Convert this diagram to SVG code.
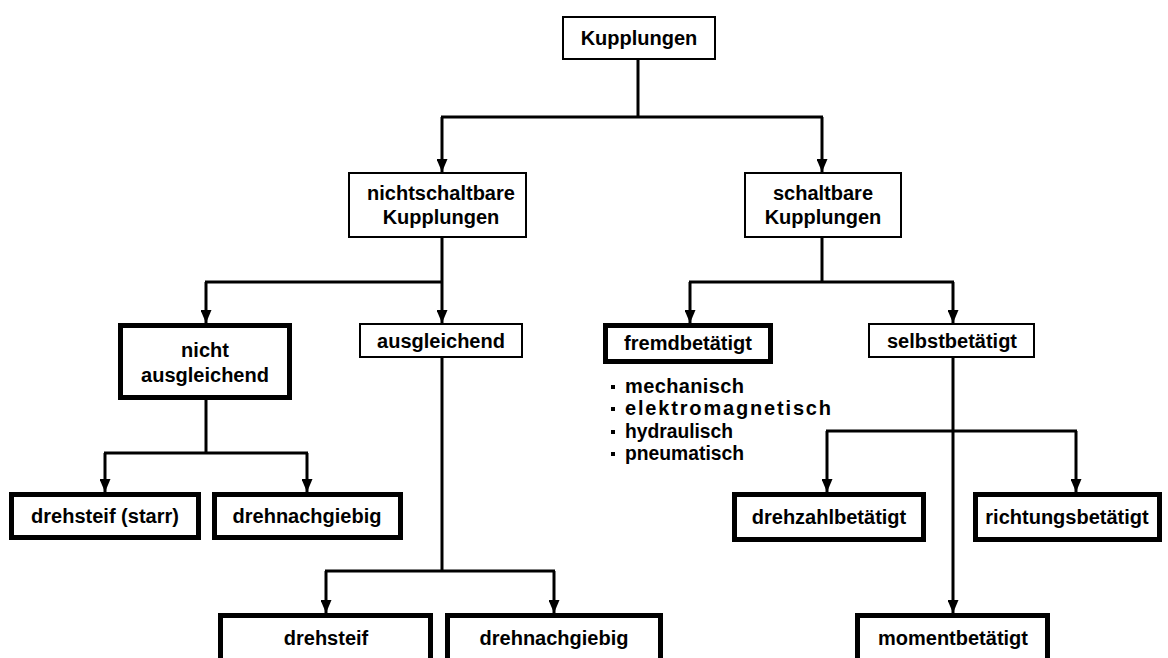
<svg xmlns="http://www.w3.org/2000/svg" width="1168" height="658" viewBox="0 0 1168 658">
  <style>
    .box { fill: #fff; stroke: #000; stroke-width: 2; }
    .box-thick { fill: #fff; stroke: #000; stroke-width: 5; }
    .label { font-family: "Liberation Sans", Arial, sans-serif; font-weight: bold; font-size: 20px; fill: #000; text-anchor: middle; }
    .item { font-family: "Liberation Sans", Arial, sans-serif; font-weight: bold; font-size: 20px; fill: #000; }
    .bullet { fill: #000; }
    .conn { fill: none; stroke: #000; stroke-width: 3; }
  </style>
  <defs>
    <marker id="arrow" markerUnits="userSpaceOnUse" viewBox="0 0 13 11" markerWidth="13" markerHeight="11" refX="13" refY="5.5" orient="auto">
      <path d="M0,0 L13,5.5 L0,11 z" fill="#000"/>
    </marker>
  </defs>
  <rect width="1168" height="658" fill="#fff"/>

  <!-- connectors -->
  <g id="connectors">
    <!-- Kupplungen -> two main branches -->
    <path class="conn" d="M638,60 V117"/>
    <path class="conn" d="M441,117 H823"/>
    <path class="conn" d="M442,117 V172" marker-end="url(#arrow)"/>
    <path class="conn" d="M822,117 V172" marker-end="url(#arrow)"/>

    <!-- nichtschaltbare -> nicht ausgleichend / ausgleichend -->
    <path class="conn" d="M442,238 V282"/>
    <path class="conn" d="M205,282 H443"/>
    <path class="conn" d="M206,282 V323" marker-end="url(#arrow)"/>
    <path class="conn" d="M442,282 V323" marker-end="url(#arrow)"/>

    <!-- schaltbare -> fremdbetätigt / selbstbetätigt -->
    <path class="conn" d="M822,238 V282"/>
    <path class="conn" d="M689,282 H954"/>
    <path class="conn" d="M690,282 V323" marker-end="url(#arrow)"/>
    <path class="conn" d="M953,282 V323" marker-end="url(#arrow)"/>

    <!-- nicht ausgleichend -> drehsteif (starr) / drehnachgiebig -->
    <path class="conn" d="M206,400 V453"/>
    <path class="conn" d="M104,453 H308"/>
    <path class="conn" d="M105,453 V492" marker-end="url(#arrow)"/>
    <path class="conn" d="M307,453 V492" marker-end="url(#arrow)"/>

    <!-- ausgleichend -> drehsteif / drehnachgiebig -->
    <path class="conn" d="M442,358 V571"/>
    <path class="conn" d="M325,571 H555"/>
    <path class="conn" d="M326,571 V613" marker-end="url(#arrow)"/>
    <path class="conn" d="M554,571 V613" marker-end="url(#arrow)"/>

    <!-- selbstbetätigt -> drehzahl- / richtungs- / momentbetätigt -->
    <path class="conn" d="M953,358 V613" marker-end="url(#arrow)"/>
    <path class="conn" d="M826,431 H1077"/>
    <path class="conn" d="M827,431 V492" marker-end="url(#arrow)"/>
    <path class="conn" d="M1076,431 V492" marker-end="url(#arrow)"/>
  </g>

  <!-- nodes -->
  <g id="kupplungen">
    <rect class="box" x="563" y="17" width="152" height="42"/>
    <text class="label" x="639" y="45">Kupplungen</text>
  </g>

  <g id="nichtschaltbare">
    <rect class="box" x="349" y="173" width="177" height="64"/>
    <text class="label" x="441" y="200">nichtschaltbare</text>
    <text class="label" x="441" y="224">Kupplungen</text>
  </g>

  <g id="schaltbare">
    <rect class="box" x="745" y="173" width="156" height="64"/>
    <text class="label" x="823" y="200">schaltbare</text>
    <text class="label" x="823" y="224">Kupplungen</text>
  </g>

  <g id="nicht-ausgleichend">
    <rect class="box-thick" x="120.5" y="325.5" width="169" height="72"/>
    <text class="label" x="205" y="357">nicht</text>
    <text class="label" x="205" y="382">ausgleichend</text>
  </g>

  <g id="ausgleichend">
    <rect class="box" x="360" y="324" width="162" height="33"/>
    <text class="label" x="441" y="348">ausgleichend</text>
  </g>

  <g id="fremdbetaetigt">
    <rect class="box-thick" x="605.5" y="325.5" width="165" height="36"/>
    <text class="label" x="688" y="350">fremdbetätigt</text>
  </g>

  <g id="fremdbetaetigt-arten">
    <rect class="bullet" x="611" y="385" width="4" height="4"/>
    <text class="item" x="625" y="393" textLength="119" lengthAdjust="spacing">mechanisch</text>
    <rect class="bullet" x="611" y="407" width="4" height="4"/>
    <text class="item" x="625" y="415" textLength="206" lengthAdjust="spacing">elektromagnetisch</text>
    <rect class="bullet" x="611" y="430" width="4" height="4"/>
    <text class="item" x="625" y="438" textLength="108" lengthAdjust="spacingAndGlyphs">hydraulisch</text>
    <rect class="bullet" x="611" y="452" width="4" height="4"/>
    <text class="item" x="625" y="460" textLength="119" lengthAdjust="spacingAndGlyphs">pneumatisch</text>
  </g>

  <g id="selbstbetaetigt">
    <rect class="box" x="869" y="324" width="165" height="33"/>
    <text class="label" x="952" y="348">selbstbetätigt</text>
  </g>

  <g id="drehsteif-starr">
    <rect class="box-thick" x="11.5" y="494.5" width="187" height="43"/>
    <text class="label" x="105" y="523">drehsteif (starr)</text>
  </g>

  <g id="drehnachgiebig-1">
    <rect class="box-thick" x="214.5" y="494.5" width="186" height="43"/>
    <text class="label" x="307" y="523">drehnachgiebig</text>
  </g>

  <g id="drehsteif">
    <rect class="box-thick" x="220.5" y="615.5" width="210" height="60"/>
    <text class="label" x="326" y="645">drehsteif</text>
  </g>

  <g id="drehnachgiebig-2">
    <rect class="box-thick" x="447.5" y="615.5" width="213" height="60"/>
    <text class="label" x="554" y="645">drehnachgiebig</text>
  </g>

  <g id="drehzahlbetaetigt">
    <rect class="box-thick" x="734.5" y="494.5" width="189" height="45"/>
    <text class="label" x="829" y="524">drehzahlbetätigt</text>
  </g>

  <g id="richtungsbetaetigt">
    <rect class="box-thick" x="975.5" y="494.5" width="184" height="45"/>
    <text class="label" x="1067" y="524">richtungsbetätigt</text>
  </g>

  <g id="momentbetaetigt">
    <rect class="box-thick" x="857.5" y="615.5" width="190" height="60"/>
    <text class="label" x="953" y="645">momentbetätigt</text>
  </g>
</svg>
